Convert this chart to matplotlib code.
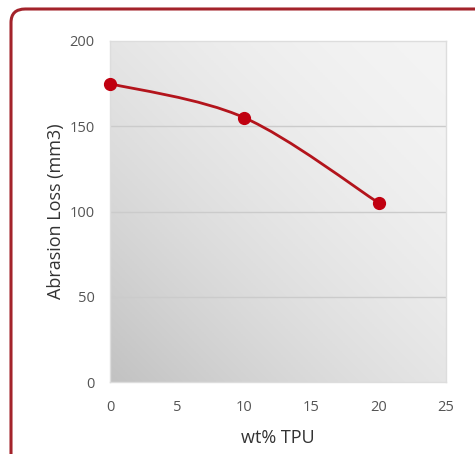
import numpy as np
import matplotlib
matplotlib.use("Agg")
import matplotlib.pyplot as plt
from matplotlib.path import Path
from matplotlib.patches import PathPatch, FancyBboxPatch

# Data
tpu_wt = [0, 10, 20]
abrasion_loss = [175, 155, 105]
x_ticks = [0, 5, 10, 15, 20, 25]
y_ticks = [0, 50, 100, 150, 200]

plt.rcParams['font.family'] = ['Open Sans', 'DejaVu Sans']

W, H = 475, 454
fig = plt.figure(figsize=(W / 100, H / 100), dpi=100)

# rounded red frame, running off the right and bottom edges
frame = FancyBboxPatch((11 / W, -0.05), 1.2, 1 - 9 / H + 0.05,
                       boxstyle="round,pad=0,rounding_size=0.03",
                       transform=fig.transFigure, facecolor="white",
                       edgecolor="#a3232b", linewidth=2.2, zorder=-1)
fig.patches.append(frame)

ax = fig.add_axes([110 / W, 1 - 382 / H, 336 / W, 341 / H])
ax.set_zorder(1)
ax.set_xlim(0, 25)
ax.set_ylim(0, 200)

# diagonal grey gradient background (dark bottom-left, light top-right)
gx, gy = np.meshgrid(np.linspace(0, 1, 200), np.linspace(0, 1, 200))
t = ((1 - gx) + gy) / 2  # gy runs downward in image rows
t = t ** 1.8
light = np.array([0.955, 0.955, 0.955])
dark = np.array([0.76, 0.76, 0.76])
img = light[None, None, :] * (1 - t[..., None]) + dark[None, None, :] * t[..., None]
ax.imshow(img, extent=[0, 25, 0, 200], origin="upper", aspect="auto", zorder=0)

for v in y_ticks[1:-1]:
    ax.axhline(v, color="#cbcbcb", linewidth=1.0, zorder=1)

# smoothed line (Excel-style bezier through points)
pts = list(zip(tpu_wt, abrasion_loss))
verts = [pts[0]]
codes = [Path.MOVETO]
for i in range(len(pts) - 1):
    p0 = pts[i - 1] if i > 0 else pts[i]
    p1 = pts[i]
    p2 = pts[i + 1]
    p3 = pts[i + 2] if i + 2 < len(pts) else pts[i + 1]
    c1 = (p1[0] + (p2[0] - p0[0]) / 6, p1[1] + (p2[1] - p0[1]) / 6)
    c2 = (p2[0] - (p3[0] - p1[0]) / 6, p2[1] - (p3[1] - p1[1]) / 6)
    verts += [c1, c2, p2]
    codes += [Path.CURVE4] * 3
ax.add_patch(PathPatch(Path(verts, codes), facecolor="none",
                       edgecolor="#b3141c", linewidth=2.0, zorder=3))
ax.plot(tpu_wt, abrasion_loss, "o", color="#c00010", markersize=8.5,
        zorder=4, clip_on=False)

for s in ax.spines.values():
    s.set_color("#dddddd")
    s.set_linewidth(1.0)

ax.set_xticks(x_ticks)
ax.set_yticks(y_ticks)
ax.tick_params(length=0, colors="#555555", labelsize=10.5)
ax.tick_params(axis="x", pad=13)
ax.tick_params(axis="y", pad=11)
ax.set_xlabel("wt% TPU", fontsize=13, color="#333333", labelpad=10)
ax.set_ylabel("Abrasion Loss (mm3)", fontsize=13, color="#333333", labelpad=3)

fig.savefig("out.png", dpi=100)
